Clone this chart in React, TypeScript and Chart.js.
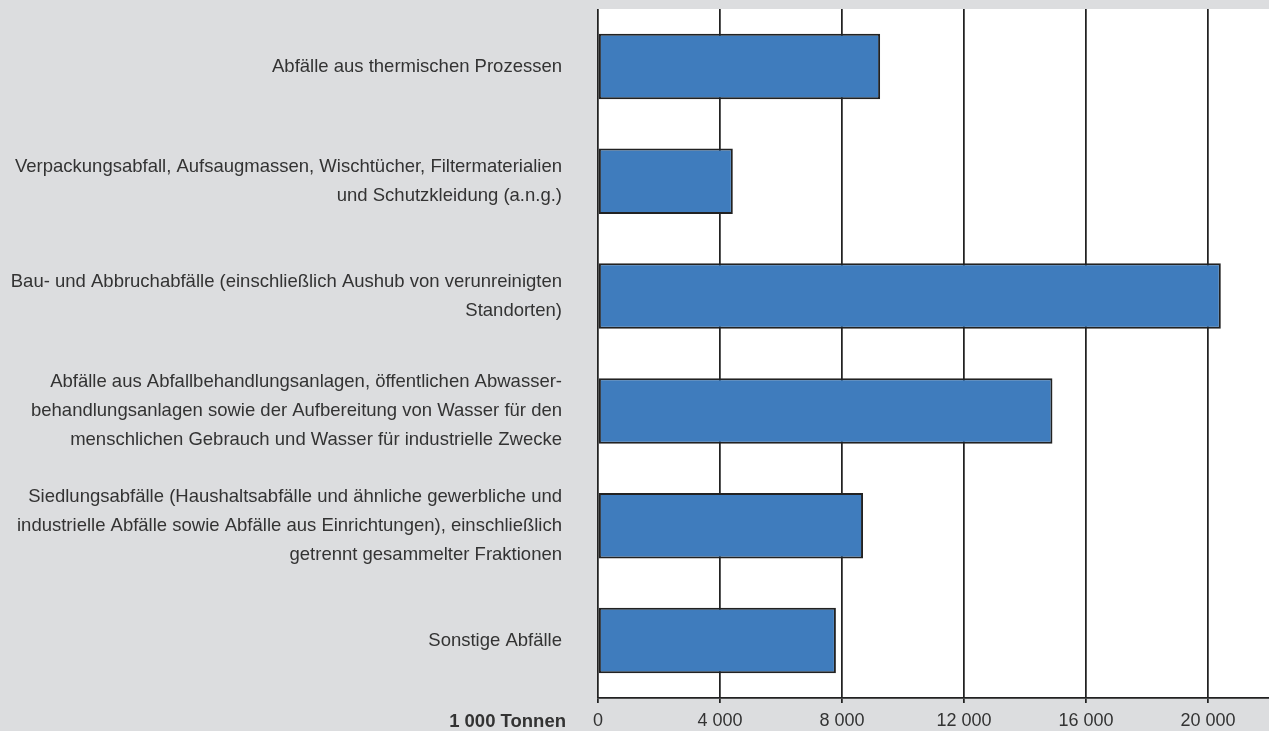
import React, { useEffect, useRef } from "react";
import { Chart, registerables } from "chart.js";

Chart.register(...registerables);

const categories: string[][] = [
  ["Abfälle aus thermischen Prozessen"],
  ["Verpackungsabfall, Aufsaugmassen, Wischtücher, Filtermaterialien", "und Schutzkleidung (a.n.g.)"],
  ["Bau- und Abbruchabfälle (einschließlich Aushub von verunreinigten", "Standorten)"],
  ["Abfälle aus Abfallbehandlungsanlagen, öffentlichen Abwasser-", "behandlungsanlagen sowie der Aufbereitung von Wasser für den", "menschlichen Gebrauch und Wasser für industrielle Zwecke"],
  ["Siedlungsabfälle (Haushaltsabfälle und ähnliche gewerbliche und", "industrielle Abfälle sowie Abfälle aus Einrichtungen), einschließlich", "getrennt gesammelter Fraktionen"],
  ["Sonstige Abfälle"],
];
const values: number[] = [9250, 4420, 20420, 14900, 8690, 7800];
const tickValues: number[] = [0, 4000, 8000, 12000, 16000, 20000];
const unitLabel = "1 000 Tonnen";

const FONT = "'Liberation Sans', Arial, sans-serif";

const plotBg = {
  id: "plotBg",
  beforeDraw(chart: any) {
    const { ctx, chartArea } = chart;
    ctx.save();
    ctx.fillStyle = "#ffffff";
    ctx.fillRect(chartArea.left, chartArea.top, chartArea.right - chartArea.left, chartArea.bottom - chartArea.top);
    ctx.restore();
  },
};

export default function App() {
  const ref = useRef<HTMLCanvasElement | null>(null);
  useEffect(() => {
    document.body.style.margin = "0";
    const chart = new Chart(ref.current as HTMLCanvasElement, {
      type: "bar",
      data: {
        labels: categories,
        datasets: [
          {
            data: values,
            backgroundColor: "#3f7cbd",
            borderColor: "#222222",
            borderWidth: 2,
            borderSkipped: false,
            barPercentage: 0.57,
            categoryPercentage: 1,
          },
        ],
      },
      options: {
        indexAxis: "y",
        animation: false,
        responsive: false,
        maintainAspectRatio: false,
        layout: { padding: { top: 9, right: 0, bottom: 0, left: 0 } },
        plugins: { legend: { display: false }, tooltip: { enabled: false } },
        scales: {
          x: {
            min: 0,
            max: 22000,
            afterBuildTicks: (scale: any) => {
              scale.ticks = tickValues.map((v) => ({ value: v }));
            },
            afterFit: (scale: any) => {
              scale.height = 33;
              scale.paddingLeft = 0;
              scale.paddingRight = 0;
            },
            grid: { color: "#222222", lineWidth: 1.75, tickLength: 5, drawTicks: true },
            border: { display: true, color: "#222222", width: 1.75 },
            ticks: {
              color: "#333333",
              font: { family: FONT, size: 18 },
              padding: 7,
              maxRotation: 0,
              callback: (v: any) => {
                const n = Number(v);
                return n >= 1000 ? `${Math.floor(n / 1000)} ${String(n % 1000).padStart(3, "0")}` : String(n);
              },
            },
          },
          y: {
            afterFit: (scale: any) => {
              scale.width = 598;
              scale.paddingTop = 0;
              scale.paddingBottom = 0;
            },
            grid: { display: false, drawTicks: false },
            border: { display: false },
            ticks: {
              color: "#333333",
              font: { family: FONT, size: 18.5, lineHeight: 1.55 },
              padding: 36,
              autoSkip: false,
            },
          },
        },
      },
      plugins: [plotBg],
    } as any);
    return () => chart.destroy();
  }, []);

  return (
    <div style={{ position: "fixed", left: 0, top: 0, width: 1269, height: 731, background: "#dcdddf" }}>
      <canvas ref={ref} width={1269} height={731} style={{ display: "block" }} />
      <span
        style={{
          position: "absolute",
          right: 1269 - 566,
          top: 710,
          fontFamily: FONT,
          fontSize: 18.5,
          fontWeight: "bold",
          color: "#333333",
          whiteSpace: "nowrap",
        }}
      >
        {unitLabel}
      </span>
    </div>
  );
}
